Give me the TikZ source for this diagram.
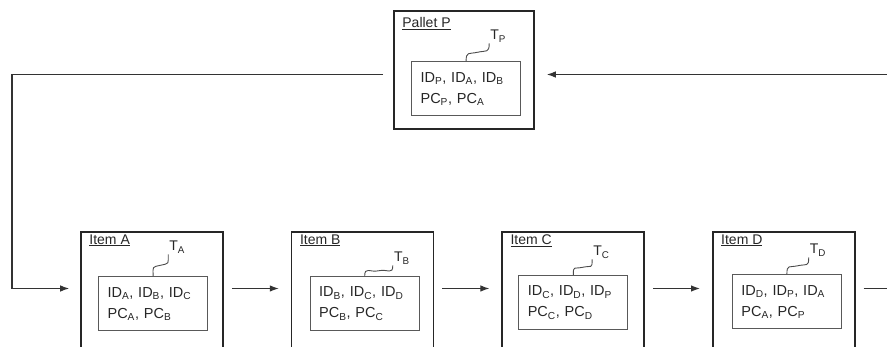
\documentclass[tikz,border=0pt]{standalone}
\usepackage{fontspec}
\setmainfont{Liberation Sans}
\usetikzlibrary{positioning,arrows.meta,calc}
\newcommand{\sbs}[1]{\textsubscript{#1}}

\begin{document}
\begin{tikzpicture}[x=1pt, y=1pt,
  unit/.style={draw=black!85, line width=1.6pt, minimum width=142pt, minimum height=130pt, inner sep=0pt},
  tagbox/.style={draw=black!65, line width=0.8pt, anchor=north west, minimum width=109pt, minimum height=54pt, text width=91pt, inner xsep=9pt, align=left, font=\fontsize{14.5}{21}\selectfont, text=black!85},
  title/.style={anchor=north west, font=\fontsize{14}{15}\selectfont, text=black!85, inner sep=1pt},
  tagname/.style={font=\fontsize{14}{15}\selectfont, text=black!85, inner sep=1pt},
  wire/.style={black!70, line width=0.9pt},
  arr/.style={-{Latex[length=9pt,width=6.5pt]}, black!80, line width=1.1pt, shorten <=8pt, shorten >=12pt}]
\useasboundingbox (0,0) rectangle (887,347);
% pallet on top
\node[unit, minimum width=140pt, minimum height=118pt] (pallet) at (464,277) {};
\node[title] (lP) at ([xshift=8pt,yshift=-6pt]pallet.north west) {\underline{Pallet P}};
\node[tagbox] (inP) at ([xshift=18pt,yshift=-51pt]pallet.north west) {ID\sbs{P}, ID\sbs{A}, ID\sbs{B}\\PC\sbs{P}, PC\sbs{A}};
\node[tagname] (tP) at ([xshift=105pt,yshift=-26pt]pallet.north west) {T\sbs{P}};
% items in a row
\node[unit] (itemA) at (152,50) {};
\node[unit, right=67pt of itemA] (itemB) {};
\node[unit, right=67pt of itemB] (itemC) {};
\node[unit, right=67pt of itemC] (itemD) {};
\node[title] (lA) at ([xshift=8pt,yshift=-2pt]itemA.north west) {\underline{Item A}};
\node[title] (lB) at ([xshift=8pt,yshift=-2pt]itemB.north west) {\underline{Item B}};
\node[title] (lC) at ([xshift=8pt,yshift=-2pt]itemC.north west) {\underline{Item C}};
\node[title] (lD) at ([xshift=8pt,yshift=-2pt]itemD.north west) {\underline{Item D}};
\node[tagbox] (inA) at ([xshift=18pt,yshift=-45pt]itemA.north west) {ID\sbs{A}, ID\sbs{B}, ID\sbs{C}\\PC\sbs{A}, PC\sbs{B}};
\node[tagbox] (inB) at ([xshift=19pt,yshift=-45pt]itemB.north west) {ID\sbs{B}, ID\sbs{C}, ID\sbs{D}\\PC\sbs{B}, PC\sbs{C}};
\node[tagbox] (inC) at ([xshift=17pt,yshift=-44pt]itemC.north west) {ID\sbs{C}, ID\sbs{D}, ID\sbs{P}\\PC\sbs{C}, PC\sbs{D}};
\node[tagbox] (inD) at ([xshift=20pt,yshift=-43pt]itemD.north west) {ID\sbs{D}, ID\sbs{P}, ID\sbs{A}\\PC\sbs{A}, PC\sbs{P}};
\node[tagname] (tA) at ([xshift=97pt,yshift=-16pt]itemA.north west) {T\sbs{A}};
\node[tagname] (tB) at ([xshift=111pt,yshift=-27pt]itemB.north west) {T\sbs{B}};
\node[tagname] (tC) at ([xshift=100pt,yshift=-21pt]itemC.north west) {T\sbs{C}};
\node[tagname] (tD) at ([xshift=106pt,yshift=-19pt]itemD.north west) {T\sbs{D}};
% antenna wires
\draw[wire] (inP.north) .. controls +(0,10) and +(-9,-2) .. ($(inP.north)!0.5!(tP.south west)$) .. controls +(9,2) and +(0,-10) .. (tP.south west);
\draw[wire] (inA.north) .. controls +(0,10) and +(-9,-2) .. ($(inA.north)!0.5!(tA.south west)$) .. controls +(9,2) and +(0,-10) .. (tA.south west);
\draw[wire] (inB.north) .. controls +(0,10) and +(-9,-2) .. ($(inB.north)!0.5!(tB.south west)$) .. controls +(9,2) and +(0,-10) .. (tB.south west);
\draw[wire] (inC.north) .. controls +(0,10) and +(-9,-2) .. ($(inC.north)!0.5!(tC.south west)$) .. controls +(9,2) and +(0,-10) .. (tC.south west);
\draw[wire] (inD.north) .. controls +(0,10) and +(-9,-2) .. ($(inD.north)!0.5!(tD.south west)$) .. controls +(9,2) and +(0,-10) .. (tD.south west);
% flow
\coordinate (feed) at (887,272.5);
\coordinate (lane) at (0,58.5);
\coordinate (bend) at (12,58.5);
\coordinate (exit) at (887,58.5);
\draw[arr, shorten <=0pt] (feed) -- (feed -| pallet.east);
\draw[arr, shorten <=10pt, shorten >=11pt] (feed -| pallet.west) -| (bend) -- (bend -| itemA.west);
\draw[arr] (lane -| itemA.east) -- (lane -| itemB.west);
\draw[arr] (lane -| itemB.east) -- (lane -| itemC.west);
\draw[arr] (lane -| itemC.east) -- (lane -| itemD.west);
\draw[arr, -, shorten >=0pt] (lane -| itemD.east) -- (exit);
\end{tikzpicture}
\end{document}
